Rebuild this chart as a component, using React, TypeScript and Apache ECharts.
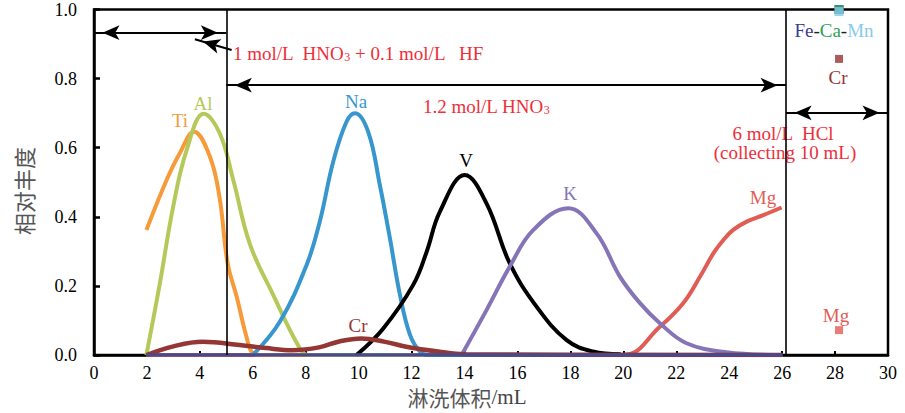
import React, { useEffect, useRef } from 'react';
import * as echarts from 'echarts';

// ---------- data (x = eluted volume mL, y = relative abundance) ----------
const tiData = [[1.98,0.362],[2.74,0.506],[3.24,0.584],[3.78,0.646],[4.38,0.574],[4.74,0.458],[5.05,0.265],[5.39,0.169],[5.76,0.053],[6.0,0.005],[6.3,0],[26,0]];
const alData = [[1.98,0],[2.49,0.208],[2.99,0.429],[3.5,0.593],[4.15,0.698],[4.75,0.642],[5.26,0.507],[5.89,0.321],[6.77,0.174],[7.78,0.019],[8.1,0],[26,0]];
const naData = [[6.0,0],[7.02,0.096],[8.03,0.26],[8.53,0.386],[9.04,0.56],[9.54,0.675],[9.86,0.70],[10.36,0.646],[10.8,0.492],[11.18,0.338],[11.56,0.174],[11.94,0.058],[12.31,0.01],[12.6,0],[26,0]];
const vData = [[9.92,0],[10.93,0.077],[12.06,0.203],[12.57,0.299],[13.07,0.415],[14.01,0.521],[14.83,0.439],[15.71,0.265],[16.72,0.14],[17.86,0.043],[18.85,0.01],[19.9,0.002]];
const kData = [[13.89,0],[14.83,0.13],[15.71,0.256],[16.6,0.362],[17.92,0.425],[18.99,0.352],[19.87,0.227],[20.63,0.15],[21.38,0.092],[22.39,0.034],[23.9,0.008],[26,0]];
const mgData = [[1.98,0],[20.0,0],[21.38,0.082],[22.26,0.15],[22.9,0.227],[23.4,0.294],[23.78,0.333],[24.15,0.362],[24.66,0.386],[25.29,0.405],[25.98,0.427]];
const crData = [[1.98,0],[3.0,0.025],[4.1,0.038],[5.5,0.029],[6.5,0.02],[7.5,0.014],[8.5,0.022],[9.3,0.04],[10.1,0.048],[11.0,0.038],[11.8,0.024],[13.0,0.01],[14.0,0.002],[26,0]];
const baseData = [[1.98,0],[26,0]];

// HCl fraction (collected 10 mL)
const hclFe = [[28.15, 1.0]];
const hclCa = [[28.15, 1.0]];
const hclMn = [[28.15, 0.994]];
const hclCr = [[28.15, 0.857]];
const hclMg = [[28.15, 0.072]];

// eluent boundaries
const boundaries = [0, 5, 26.15, 30];

const serif = '"Liberation Serif", "Times New Roman", serif';
const cjk = '"Noto Sans CJK SC", sans-serif';
const RED = '#EE2E3A';
const C = {
  ti: '#F79A3A', al: '#B5C95B', na: '#3896CF', v: '#000000', k: '#8675B6',
  mg: '#E05C55', cr: '#943634', base: '#4A4A8A', fe: '#3B3B94', ca: '#2E9E5B', mn: '#86CBEA',
};

const line = (name: string, data: number[][], color: string, width = 4, extra: any = {}) => ({
  type: 'line', name, data, smooth: 0.4, symbol: 'none', silent: true,
  lineStyle: { color, width }, itemStyle: { color }, ...extra,
});

const arrowEnd = (coord: number[]) => ({ coord, symbol: 'arrow', symbolSize: [11, 17], symbolOffset: [0, 8.5] });
const plainEnd = (coord: number[]) => ({ coord, symbol: 'none' });

const sq = (name: string, data: number[][], color: string, size = 9) => ({
  type: 'scatter', name, data, symbol: 'rect', symbolSize: size, silent: true,
  itemStyle: { color }, z: 5,
});

const txt = (x: number, y: number, text: string, fill: string, size = 19, extra: any = {}) => ({
  type: 'text', x, y, silent: true,
  style: { text, fill, fontSize: size, fontFamily: serif, align: 'center', verticalAlign: 'middle', ...extra },
});

export default function App() {
  const ref = useRef<HTMLDivElement>(null);
  useEffect(() => {
    const chart = echarts.init(ref.current!, null, { renderer: 'svg' });
    const option: any = {
      animation: false,
      backgroundColor: '#ffffff',
      grid: { left: 94, right: 17, top: 9.5, bottom: 58, show: true, borderColor: '#000', borderWidth: 2.5 },
      xAxis: {
        type: 'value', min: 0, max: 30, interval: 2,
        axisLine: { show: true, lineStyle: { color: '#000', width: 2.5 } },
        axisTick: { show: true, inside: true, length: 4, lineStyle: { color: '#000', width: 2 } },
        axisLabel: { color: '#000', fontSize: 18, fontFamily: serif, margin: 9, lineHeight: 18 },
        splitLine: { show: false },
      },
      yAxis: {
        type: 'value', min: 0, max: 1, interval: 0.2,
        axisLine: { show: true, lineStyle: { color: '#000', width: 2.5 } },
        axisTick: { show: true, inside: true, length: 6, lineStyle: { color: '#000', width: 2.5 } },
        axisLabel: { color: '#000', fontSize: 18, fontFamily: serif, margin: 17, formatter: (v: number) => v.toFixed(1) },
        splitLine: { show: false },
      },
      series: [
        line('Mg', mgData, C.mg, 4, { z: 2 }),
        line('Ti', tiData, C.ti, 4, { z: 2 }),
        line('Al', alData, C.al, 4, { z: 2 }),
        line('Na', naData, C.na, 4, { z: 2 }),
        line('V', vData, C.v, 4, { z: 2 }),
        line('K', kData, C.k, 4, { z: 2 }),
        line('Cr', crData, C.cr, 4.5, { z: 3 }),
        line('Fe-Ca-Mn base', baseData, C.base, 3.5, {
          z: 4,
          markLine: {
            silent: true, animation: false,
            label: { show: false },
            itemStyle: { color: '#000' },
            lineStyle: { color: '#000', width: 2, type: 'solid' },
            data: [
              [arrowEnd([boundaries[0], 0.933]), arrowEnd([boundaries[1], 0.933])],
              [arrowEnd([boundaries[1], 0.781]), arrowEnd([boundaries[2], 0.781])],
              [arrowEnd([boundaries[2], 0.701]), arrowEnd([boundaries[3], 0.701])],
              [plainEnd([5.2, 0.883]), arrowEnd([3.81, 0.914])],
              [{ ...plainEnd([boundaries[1], 0]), lineStyle: { width: 1.6 } }, { ...plainEnd([boundaries[1], 1]), lineStyle: { width: 1.6 } }],
              [{ ...plainEnd([boundaries[2], 0]), lineStyle: { width: 1.6 } }, { ...plainEnd([boundaries[2], 1]), lineStyle: { width: 1.6 } }],
            ],
          },
        }),
        sq('Fe', hclFe, C.fe),
        sq('Ca', hclCa, C.ca),
        sq('Mn', hclMn, C.mn),
        sq('Cr HCl', hclCr, C.cr, 8),
        sq('Mg HCl', hclMg, C.mg, 8),
      ],
      graphic: [
        txt(180, 120, 'Ti', C.ti),
        txt(203, 103, 'Al', C.al),
        txt(356, 101, 'Na', C.na),
        txt(466, 160, 'V', '#000'),
        txt(570, 193, 'K', C.k),
        txt(763, 197, 'Mg', C.mg),
        txt(358, 325, 'Cr', C.cr),
        txt(838, 77, 'Cr', C.cr),
        txt(836, 315, 'Mg', C.mg),
        txt(834, 30, '{fe|Fe}-{ca|Ca}-{mn|Mn}', '#222', 19, {
          rich: {
            fe: { fill: C.fe, fontSize: 19, fontFamily: serif },
            ca: { fill: C.ca, fontSize: 19, fontFamily: serif },
            mn: { fill: C.mn, fontSize: 19, fontFamily: serif },
          },
        }),
        txt(233, 53, '1 mol/L  HNO{sub|3} + 0.1 mol/L   HF', RED, 19, {
          align: 'left',
          rich: { sub: { fill: RED, fontSize: 12, fontFamily: serif, verticalAlign: 'bottom', lineHeight: 7 } },
        }),
        txt(423, 106, '1.2 mol/L HNO{sub|3}', RED, 19, {
          align: 'left',
          rich: { sub: { fill: RED, fontSize: 12, fontFamily: serif, verticalAlign: 'bottom', lineHeight: 7 } },
        }),
        txt(783, 133, '6 mol/L  HCl', RED, 19),
        txt(785, 152, '(collecting 10 mL)', RED, 19),
        {
          type: 'text', x: 23, y: 191, rotation: Math.PI / 2, silent: true,
          style: { text: '相对丰度', fill: '#555', fontSize: 22, fontFamily: cjk, align: 'center', verticalAlign: 'middle' },
        },
        {
          type: 'text', x: 467, y: 397, silent: true,
          style: {
            text: '{c|淋洗体积}{s|/mL}', fill: '#444', align: 'center', verticalAlign: 'middle',
            rich: {
              c: { fontSize: 21, fontFamily: cjk, fill: '#555', lineHeight: 20 },
              s: { fontSize: 21, fontFamily: serif, fill: '#444', lineHeight: 20 },
            },
          },
        },
      ],
    };
    chart.setOption(option);
    return () => chart.dispose();
  }, []);
  return <div ref={ref} style={{ position: 'absolute', left: 0, top: 0, width: 905, height: 413 }} />;
}
